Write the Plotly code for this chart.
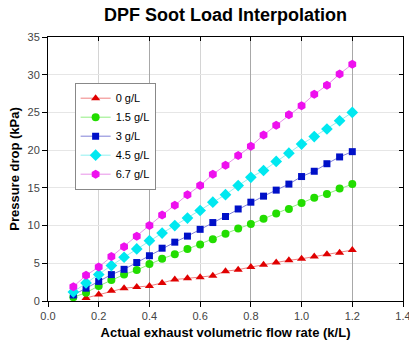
import plotly.graph_objects as go

x_all = [0.1, 0.15, 0.2, 0.25, 0.3, 0.35, 0.4, 0.45, 0.5, 0.55, 0.6, 0.65,
         0.7, 0.75, 0.8, 0.85, 0.9, 0.95, 1.0, 1.05, 1.1, 1.15, 1.2]
x_red = x_all[1:]

y_0 = [0.4, 0.85, 1.35, 1.7, 1.85, 2.0, 2.4, 2.85, 3.0, 3.15, 3.35, 3.95,
       4.15, 4.5, 4.8, 5.1, 5.4, 5.6, 5.9, 6.2, 6.4, 6.75]
y_15 = [0.5, 1.1, 2.0, 2.8, 3.5, 4.1, 4.9, 5.6, 6.2, 6.9, 7.5, 8.2, 8.9, 9.6,
        10.2, 10.9, 11.6, 12.2, 13.0, 13.7, 14.2, 14.9, 15.5]
y_3 = [0.8, 1.7, 2.6, 3.5, 4.2, 5.1, 6.0, 7.0, 7.8, 8.6, 9.5, 10.4, 11.2, 12.2,
       13.1, 13.9, 14.7, 15.5, 16.5, 17.2, 18.2, 19.1, 19.8]
y_45 = [1.2, 2.4, 3.5, 4.7, 5.8, 6.9, 8.0, 9.0, 10.0, 11.0, 12.0, 13.1, 14.1,
        15.3, 16.4, 17.3, 18.5, 19.6, 20.8, 21.8, 22.8, 23.9, 25.0]
y_67 = [1.9, 3.4, 4.5, 5.9, 7.2, 8.6, 10.0, 11.4, 12.7, 14.1, 15.3, 16.8, 18.0,
        19.3, 20.5, 22.0, 23.3, 24.7, 25.9, 27.4, 28.6, 30.1, 31.4]

names = ["0 g/L", "1.5 g/L", "3 g/L", "4.5 g/L", "6.7 g/L"]

FONT = "Liberation Sans, Arial, sans-serif"

series = [
    (x_red, y_0, "#e00000", "#f08080", "triangle-up", 8),
    (x_all, y_15, "#22dd00", "#90ee80", "circle", 8),
    (x_all, y_3, "#0010c8", "#8080d8", "square", 7),
    (x_all, y_45, "#00e8f0", "#90f0f0", "diamond", 9),
    (x_all, y_67, "#ee10ee", "#e890e8", "hexagon", 9),
]

fig = go.Figure()
for (xs, ys, mc, lc, sym, sz), nm in zip(series, names):
    fig.add_trace(go.Scatter(
        x=xs, y=ys, name=nm, mode="lines+markers",
        line=dict(color=lc, width=1),
        marker=dict(color=mc, symbol=sym, size=sz, line=dict(width=0)),
    ))

axis_common = dict(
    showline=True, linecolor="black", linewidth=1,
    showgrid=True, gridwidth=1,
    zeroline=False, automargin=False,
    tickfont=dict(family=FONT, size=11, color="#444444"),
    ticks="outside", ticklen=5, tickcolor="black",
)

fig.update_layout(
    width=409, height=347,
    margin=dict(l=48, r=6, t=37, b=46),
    paper_bgcolor="white", plot_bgcolor="white",
    font=dict(family=FONT, color="black"),
    title=dict(text="<b>DPF Soot Load Interpolation</b>",
               font=dict(family=FONT, size=18, color="black"),
               x=0.5, xref="paper", xanchor="center",
               y=1 - 15 / 347, yref="container", yanchor="middle"),
    xaxis=dict(range=[0, 1.4], dtick=0.2, tickformat=".1f",
               gridcolor="#d4d4d4", ticklabeloverflow="allow",
               title=dict(text="<b>Actual exhaust volumetric flow rate (k/L)</b>",
                          font=dict(family=FONT, size=13), standoff=6),
               **axis_common),
    yaxis=dict(range=[0, 35], dtick=5, gridcolor="#e6e6e6",
               title=dict(text="<b>Pressure drop (kPa)</b>",
                          font=dict(family=FONT, size=13), standoff=4),
               **axis_common),
    xaxis2=dict(overlaying="x", side="top", range=[0, 1.4], dtick=0.4, tick0=0,
                showline=True, linecolor="black", linewidth=1,
                showgrid=True, gridcolor="#a8a8a8", gridwidth=1,
                zeroline=False, showticklabels=False, automargin=False,
                ticks="inside", ticklen=4, tickcolor="black", anchor="y",
                minor=dict(dtick=0.2, tick0=0, ticks="inside", ticklen=4,
                           tickcolor="black", showgrid=False)),
    yaxis2=dict(overlaying="y", side="right", range=[0, 35], dtick=5,
                showline=True, linecolor="black", linewidth=1,
                showgrid=False, zeroline=False, showticklabels=False,
                automargin=False,
                ticks="inside", ticklen=4, tickcolor="black", anchor="x"),
    legend=dict(x=0.075, y=0.827, xanchor="left", yanchor="top",
                bgcolor="white", bordercolor="#888888", borderwidth=1,
                font=dict(family=FONT, size=11, color="black"),
                tracegroupgap=0),
    showlegend=True,
)

# invisible trace to make secondary axes render
fig.add_trace(go.Scatter(x=[None], y=[None], xaxis="x2", yaxis="y2",
                         showlegend=False, hoverinfo="skip"))

fig.write_html("out.html")
